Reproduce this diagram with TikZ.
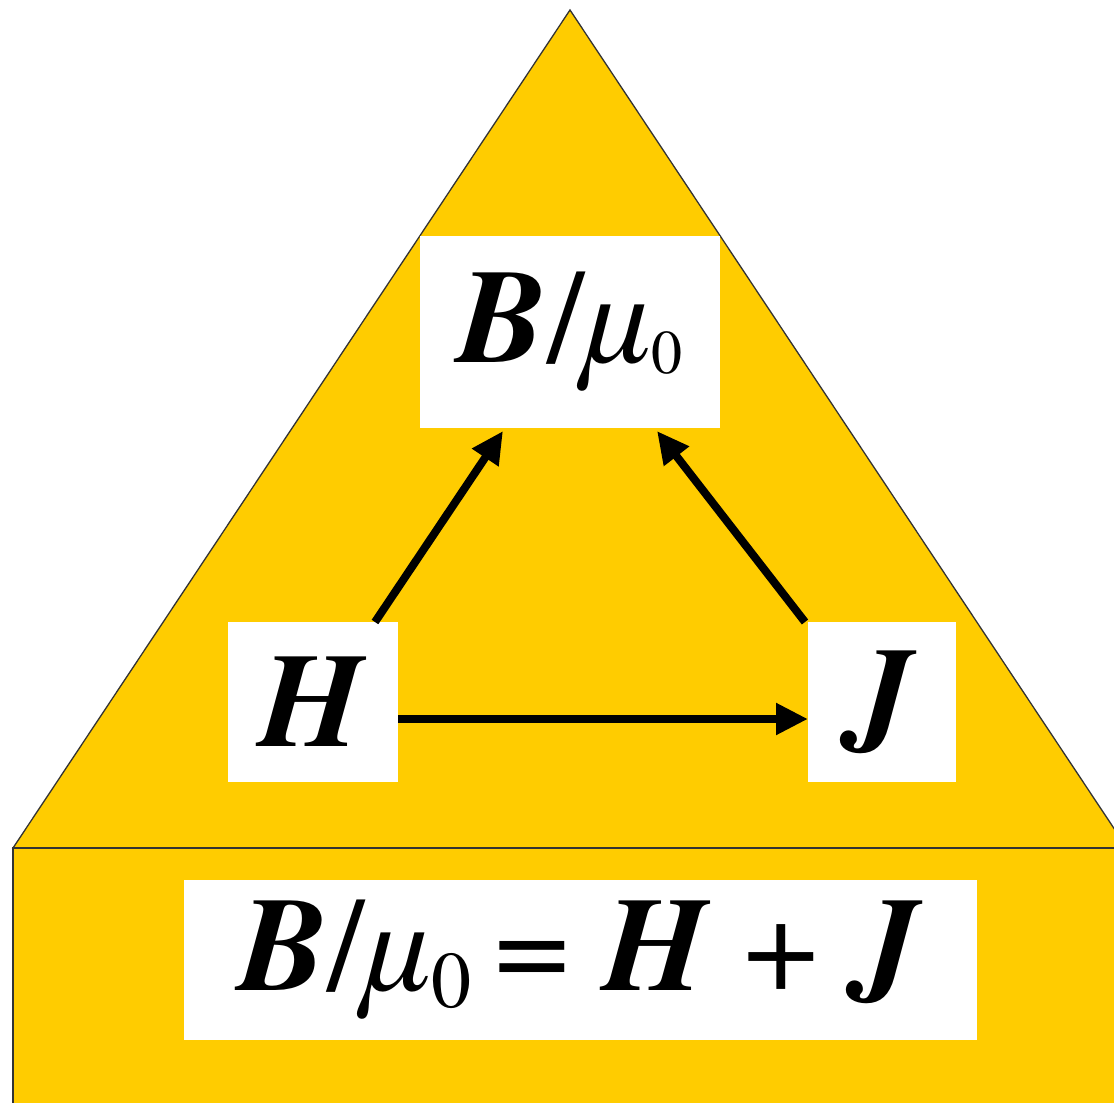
\documentclass[tikz,border=0pt]{standalone}
\usepackage{fontspec}
\setmainfont{texgyretermes}[
  Extension=.otf,
  UprightFont=*-regular,
  BoldFont=*-bold,
  ItalicFont=*-italic,
  BoldItalicFont=*-bolditalic]
\usetikzlibrary{arrows.meta}
\definecolor{gold}{HTML}{FFCC00}
\newcommand{\bigfont}{\fontsize{134}{134}\selectfont}
\begin{document}
\begin{tikzpicture}[x=1pt,y=-1pt,
  whitebox/.style={fill=white, inner sep=0pt, outer sep=0pt, anchor=center},
  arr/.style={line width=8pt, -{Triangle[length=32pt,width=30pt]}},
  outline/.style={fill=gold, draw=black!80, line width=1.3pt}]
\useasboundingbox (0,0) rectangle (1114,1103);
\clip (0,0) rectangle (1114,1103);
\path[fill=white] (0,0) rectangle (1114,1103);
\path[outline] (570,10) -- (13,848) -- (1127,848) -- cycle;
\path[outline] (13,848) rectangle (1140,1120);
\node[whitebox, minimum width=300pt, minimum height=192pt] (B) at (570,332)
  {\bigfont\textbf{\textit{B}}/\textit{µ}\raisebox{-11pt}{\fontsize{62}{62}\selectfont 0}};
\node[whitebox, minimum width=170pt, minimum height=160pt] (H) at (313,702)
  {\bigfont\textbf{\textit{H}}};
\node[whitebox, minimum width=148pt, minimum height=160pt] (J) at (882,702)
  {\bigfont\textbf{\textit{J}}};
\node[whitebox, minimum width=793pt, minimum height=160pt] (E) at (580.5,960)
  {\bigfont\textbf{\textit{B}}/\textit{µ}\raisebox{-17pt}{\fontsize{80}{80}\selectfont 0}\,= \textbf{\textit{H}} + \textbf{\textit{J}}};
\draw[arr] ([xshift=62pt]H.north) -- ([xshift=-67pt,yshift=-3pt]B.south);
\draw[arr] ([xshift=-77pt]J.north) -- ([xshift=87pt,yshift=-3pt]B.south);
\draw[arr] ([yshift=-17pt]H.east) -- ([yshift=-17pt]J.west);
\end{tikzpicture}
\end{document}
